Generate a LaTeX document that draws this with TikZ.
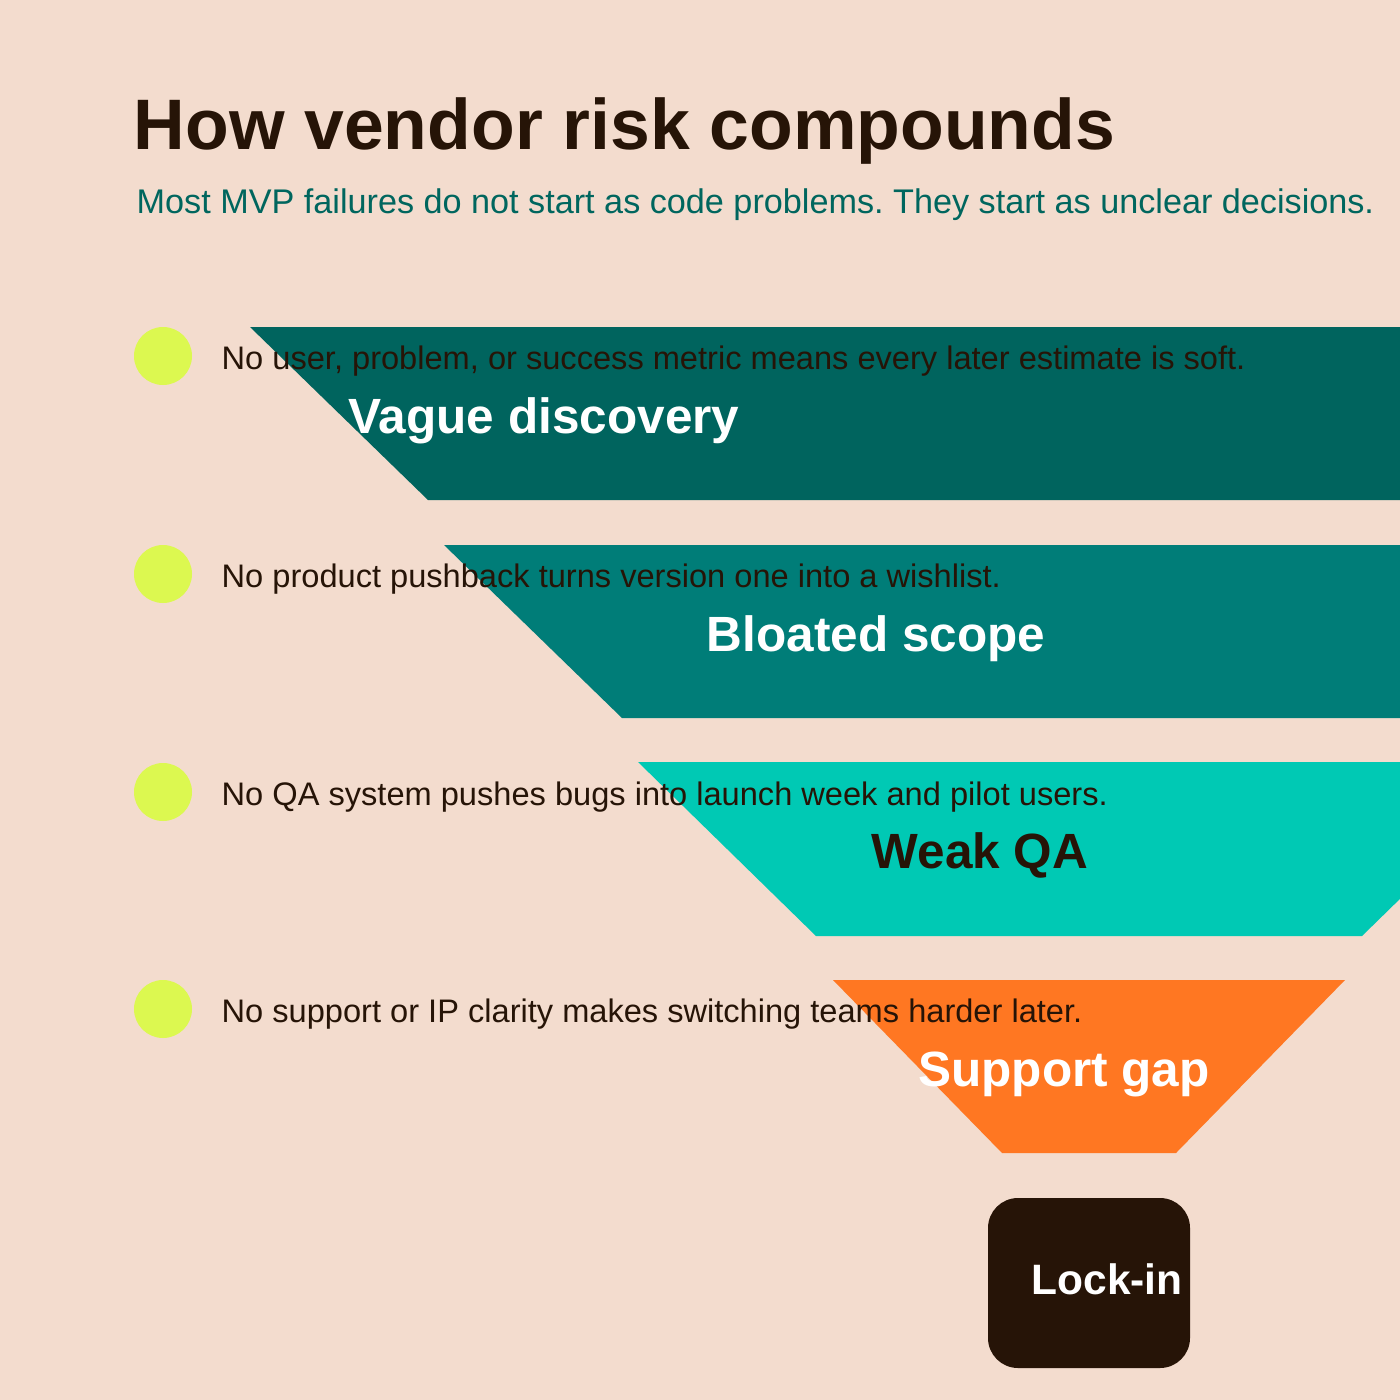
\documentclass[tikz,border=0pt]{standalone}
\usepackage{fontspec}
\setmainfont{Liberation Sans}
\frenchspacing

\definecolor{paper}{HTML}{F3DCCE}
\definecolor{ink}{HTML}{261407}
\definecolor{deepteal}{HTML}{00645E}
\definecolor{midteal}{HTML}{007D78}
\definecolor{brightteal}{HTML}{00C9B4}
\definecolor{flame}{HTML}{FF7722}
\definecolor{lime}{HTML}{DCF850}
\definecolor{subteal}{HTML}{00665E}

\tikzset{
    dot/.style={circle, fill=lime, minimum size=58pt, inner sep=0pt},
    note/.style={anchor=base west, inner sep=0pt, text=ink,
        font=\fontsize{32.6}{38}\selectfont},
    bandlabel/.style={anchor=base, inner sep=0pt,
        font=\bfseries\fontsize{49.5}{58}\selectfont},
}

\begin{document}
\begin{tikzpicture}[x=1pt, y=-1pt]
    \useasboundingbox (0,0) rectangle (1400,1400);
    \fill[paper] (0,0) rectangle (1400,1400);

    % heading
    \node[anchor=base west, inner sep=0pt, text=ink,
        font=\bfseries\fontsize{71.5}{80}\selectfont] (title) at (133.5,149)
        {How vendor risk compounds};
    \node[anchor=base west, inner sep=0pt, text=subteal,
        font=\fontsize{34.2}{40}\selectfont] (subtitle) at (136.5,213)
        {Most MVP failures do not start as code problems. They start as unclear decisions.};

    % funnel bands
    \begin{scope}
        \clip (0,0) rectangle (1400,1400);
        \fill[deepteal] (250,327) -- (1928,327) -- (1750,500) -- (428,500) -- cycle;
        \fill[midteal] (444,545) -- (1734,545) -- (1556,718) -- (622,718) -- cycle;
        \fill[brightteal] (638,762) -- (1540,762) -- (1362,936) -- (816,936) -- cycle;
        \fill[flame] (833,980) -- (1345,980) -- (1176,1153) -- (1002,1153) -- cycle;
    \end{scope}

    \fill[ink, rounded corners=30pt] (988,1198) rectangle (1190,1368);

    % bullets and notes
    \node[dot] (dot1) at (163,356) {};
    \node[dot] (dot2) at (163,574) {};
    \node[dot] (dot3) at (163,792) {};
    \node[dot] (dot4) at (163,1009) {};

    \node[note] (note1) at (221.5,369)
        {No user, problem, or success metric means every later estimate is soft.};
    \node[note] (note2) at (221.5,587)
        {No product pushback turns version one into a wishlist.};
    \node[note] (note3) at (221.5,805)
        {No QA system pushes bugs into launch week and pilot users.};
    \node[note] (note4) at (221.5,1022)
        {No support or IP clarity makes switching teams harder later.};

    % band labels
    \node[bandlabel, text=white] (vague) at (544,433) {Vague discovery};
    \node[bandlabel, text=white] (bloated) at (876,651) {Bloated scope};
    \node[bandlabel, text=ink] (weakqa) at (980,868) {Weak QA};
    \node[bandlabel, text=white] (support) at (1064,1086) {Support gap};
    \node[anchor=base, inner sep=0pt, text=white,
        font=\bfseries\fontsize{42.5}{50}\selectfont] (lockin) at (1107,1294) {Lock-in};
\end{tikzpicture}
\end{document}
